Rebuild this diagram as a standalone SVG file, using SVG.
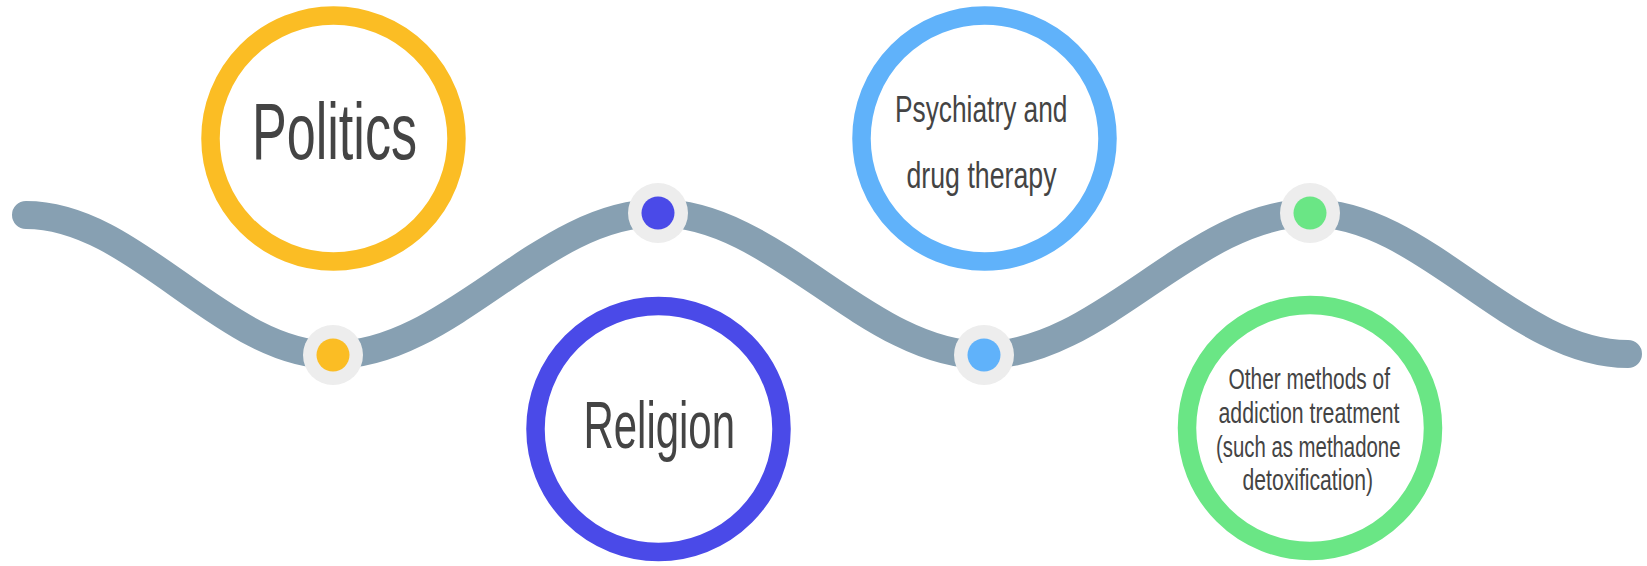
<svg xmlns="http://www.w3.org/2000/svg" width="1647" height="566" viewBox="0 0 1647 566">
  <style>
    .ring { fill: #FFFFFF; stroke-width: 18.5; }
    .dot-outer { fill: #EDEDED; }
    .label { font-family: "Liberation Sans Narrow", "Liberation Sans", "DejaVu Sans", sans-serif; fill: #444444; }
  </style>
  <rect x="0" y="0" width="1647" height="566" fill="#FFFFFF"/>
  <g id="connectors">
    <path d="M 26 215 C 136 215, 223 355, 333 355 C 450 355, 541 213, 658 213 C 775 213, 867 355, 984 355 C 1101 355, 1193 213, 1310 213 C 1424 213, 1514 354, 1628 354" fill="none" stroke="#87A0B2" stroke-width="28" stroke-linecap="round"/>
  </g>
  <g id="dot-politics">
    <circle class="dot-outer" cx="333" cy="355" r="30"/>
    <circle cx="333" cy="355" r="16.5" fill="#FBBD24"/>
  </g>
  <g id="dot-religion">
    <circle class="dot-outer" cx="658" cy="213" r="30"/>
    <circle cx="658" cy="213" r="16.5" fill="#4A4AE8"/>
  </g>
  <g id="dot-psychiatry">
    <circle class="dot-outer" cx="984" cy="355" r="30"/>
    <circle cx="984" cy="355" r="16.5" fill="#60B2FA"/>
  </g>
  <g id="dot-other">
    <circle class="dot-outer" cx="1310" cy="213" r="30"/>
    <circle cx="1310" cy="213" r="16.5" fill="#6AE685"/>
  </g>
  <g id="node-politics">
    <circle class="ring" cx="333.5" cy="138.5" r="123" stroke="#FBBD24"/>
    <text class="label" x="252" y="159" font-size="80" textLength="165" lengthAdjust="spacingAndGlyphs">Politics</text>
  </g>
  <g id="node-religion">
    <circle class="ring" cx="658.5" cy="429" r="123" stroke="#4A4AE8"/>
    <text class="label" x="583.5" y="448" font-size="67" textLength="151.5" lengthAdjust="spacingAndGlyphs">Religion</text>
  </g>
  <g id="node-psychiatry">
    <circle class="ring" cx="984.5" cy="138.5" r="123" stroke="#60B2FA"/>
    <text class="label" x="895" y="121.5" font-size="37" textLength="172.5" lengthAdjust="spacingAndGlyphs">Psychiatry and</text>
    <text class="label" x="906.5" y="187.5" font-size="37" textLength="150" lengthAdjust="spacingAndGlyphs">drug therapy</text>
  </g>
  <g id="node-other">
    <circle class="ring" cx="1310" cy="428" r="123" stroke="#6AE685"/>
    <text class="label" x="1228.5" y="389" font-size="30" textLength="161.5" lengthAdjust="spacingAndGlyphs">Other methods of</text>
    <text class="label" x="1218.5" y="423" font-size="30" textLength="181" lengthAdjust="spacingAndGlyphs">addiction treatment</text>
    <text class="label" x="1216" y="456.5" font-size="30" textLength="184.5" lengthAdjust="spacingAndGlyphs">(such as methadone</text>
    <text class="label" x="1242.5" y="490" font-size="30" textLength="130.5" lengthAdjust="spacingAndGlyphs">detoxification)</text>
  </g>
</svg>
